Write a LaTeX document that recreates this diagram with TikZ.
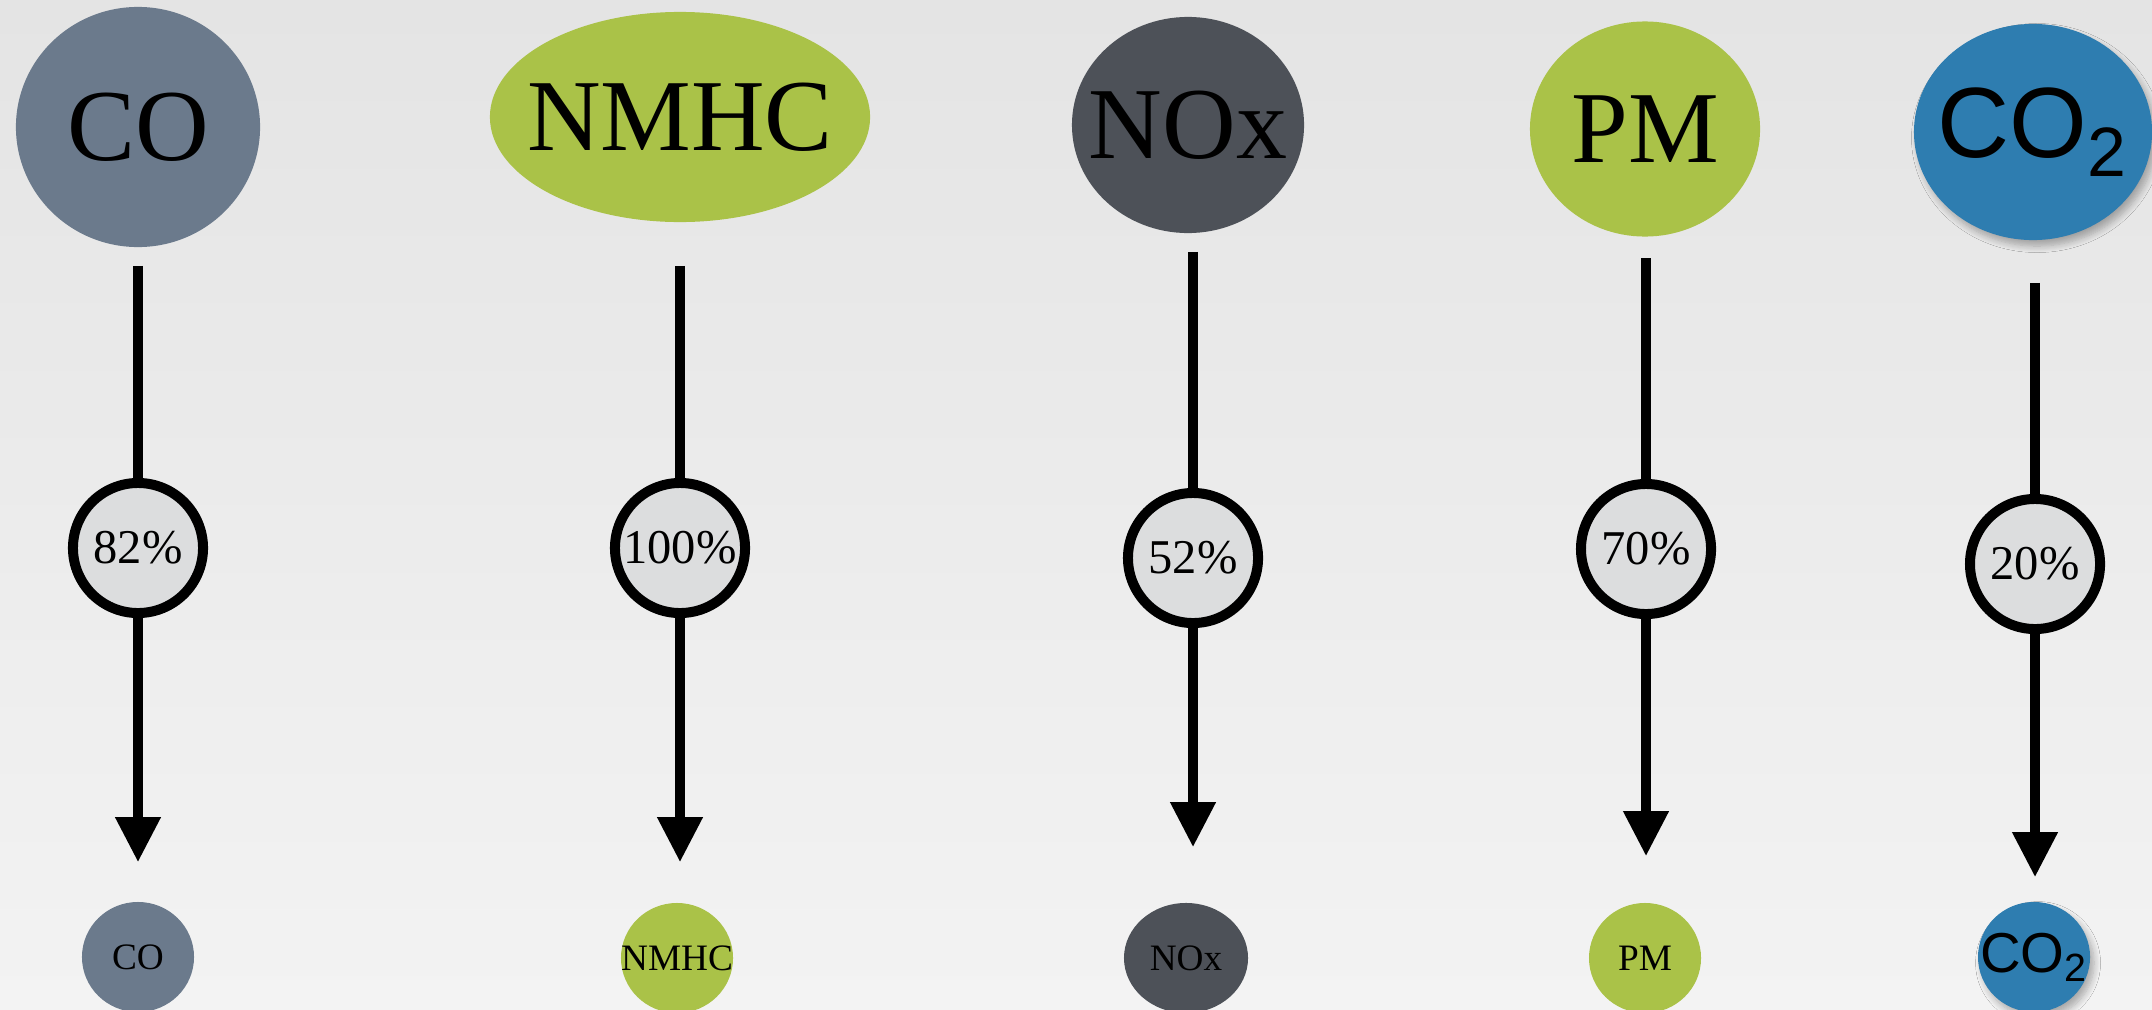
\documentclass[tikz,border=0pt]{standalone}
\usepackage{fontspec}
\setmainfont{Liberation Serif}
\newfontfamily\helv{Liberation Sans}
\usetikzlibrary{arrows.meta,shapes.geometric,shadows.blur}
\definecolor{bgtop}{RGB}{228,228,228}
\definecolor{bgbot}{RGB}{243,243,243}
\definecolor{coslate}{RGB}{107,122,140}
\definecolor{leaf}{RGB}{170,194,72}
\definecolor{charcoal}{RGB}{77,81,88}
\definecolor{ocean}{RGB}{46,125,176}
\definecolor{pctfill}{RGB}{220,221,222}
\newcommand{\zw}[1]{\makebox[0pt]{#1}}
\tikzset{
  bigblob/.style={ellipse, inner sep=0pt, font=\fontsize{29}{31}\selectfont},
  smallblob/.style={ellipse, inner sep=0pt, minimum width=1.12cm, minimum height=1.10cm, font=\fontsize{10.6}{12}\selectfont},
  pct/.style={ellipse, draw=black, line width=0.1cm, fill=pctfill, inner sep=0pt,
    minimum width=1.30cm, minimum height=1.30cm, font=\fontsize{13.8}{15}\selectfont},
  conn/.style={draw=black, line width=0.1cm},
  arr/.style={conn, -{Triangle[width=0.43cm,length=0.45cm]}},
  shade2/.style={blur shadow={shadow xshift=0.04cm, shadow yshift=-0.06cm, shadow opacity=30, shadow blur steps=8}}
}
\begin{document}
\begin{tikzpicture}[x=0.01cm,y=-0.01cm]
\useasboundingbox (0,0) rectangle (2152,1009);
\shade[top color=bgtop, bottom color=bgbot] (0,0) rectangle (2152,1009);

% top nodes
\node[bigblob, fill=coslate, minimum width=2.44cm, minimum height=2.40cm] (coTop) at (138,127) {\zw{CO}};
\node[bigblob, fill=leaf, minimum width=3.80cm, minimum height=2.10cm] (nmhcTop) at (680,117) {\zw{NMHC}};
\node[bigblob, fill=charcoal, minimum width=2.32cm, minimum height=2.16cm] (noxTop) at (1188,125) {\zw{NOx}};
\node[bigblob, fill=leaf, minimum width=2.30cm, minimum height=2.15cm] (pmTop) at (1645,129) {\zw{PM}};
\node[bigblob, fill=ocean, shade2, minimum width=2.38cm, minimum height=2.16cm, font=\helv\fontsize{28.4}{30}\selectfont] (co2Top) at (2033,132) {\zw{CO\textsubscript{2}}};

% percentage nodes
\node[pct] (coPct) at (138,548) {\zw{82\%}};
\node[pct] (nmhcPct) at (680,548) {\zw{100\%}};
\node[pct] (noxPct) at (1193,558) {\zw{52\%}};
\node[pct] (pmPct) at (1646,549) {\zw{70\%}};
\node[pct] (co2Pct) at (2035,564) {\zw{20\%}};

% bottom nodes
\node[smallblob, fill=coslate] (coBot) at (138,957) {\zw{CO}};
\node[smallblob, fill=leaf] (nmhcBot) at (677,958) {\zw{NMHC}};
\node[smallblob, fill=charcoal, minimum width=1.24cm] (noxBot) at (1186,958) {\zw{NOx}};
\node[smallblob, fill=leaf] (pmBot) at (1645,958) {\zw{PM}};
\node[smallblob, fill=ocean, shade2, font=\helv\fontsize{16}{18}\selectfont] (co2Bot) at (2034,957) {\zw{CO\textsubscript{2}}};

% connectors: top to percentage
\draw[conn, shorten <=0.18cm] (coTop.south -| coPct.north) -- (coPct.north);
\draw[conn, shorten <=0.43cm] (nmhcTop.south -| nmhcPct.north) -- (nmhcPct.north);
\draw[conn, shorten <=0.18cm] (noxTop.south -| noxPct.north) -- (noxPct.north);
\draw[conn, shorten <=0.21cm] (pmTop.south -| pmPct.north) -- (pmPct.north);
\draw[conn, shorten <=0.42cm] (co2Top.south -| co2Pct.north) -- (co2Pct.north);

% connectors: percentage to bottom
\draw[arr, shorten >=0.39cm] (coPct.south) -- (coPct.south |- coBot.north);
\draw[arr, shorten >=0.40cm] (nmhcPct.south) -- (nmhcPct.south |- nmhcBot.north);
\draw[arr, shorten >=0.55cm] (noxPct.south) -- (noxPct.south |- noxBot.north);
\draw[arr, shorten >=0.46cm] (pmPct.south) -- (pmPct.south |- pmBot.north);
\draw[arr, shorten >=0.24cm] (co2Pct.south) -- (co2Pct.south |- co2Bot.north);
\end{tikzpicture}
\end{document}
